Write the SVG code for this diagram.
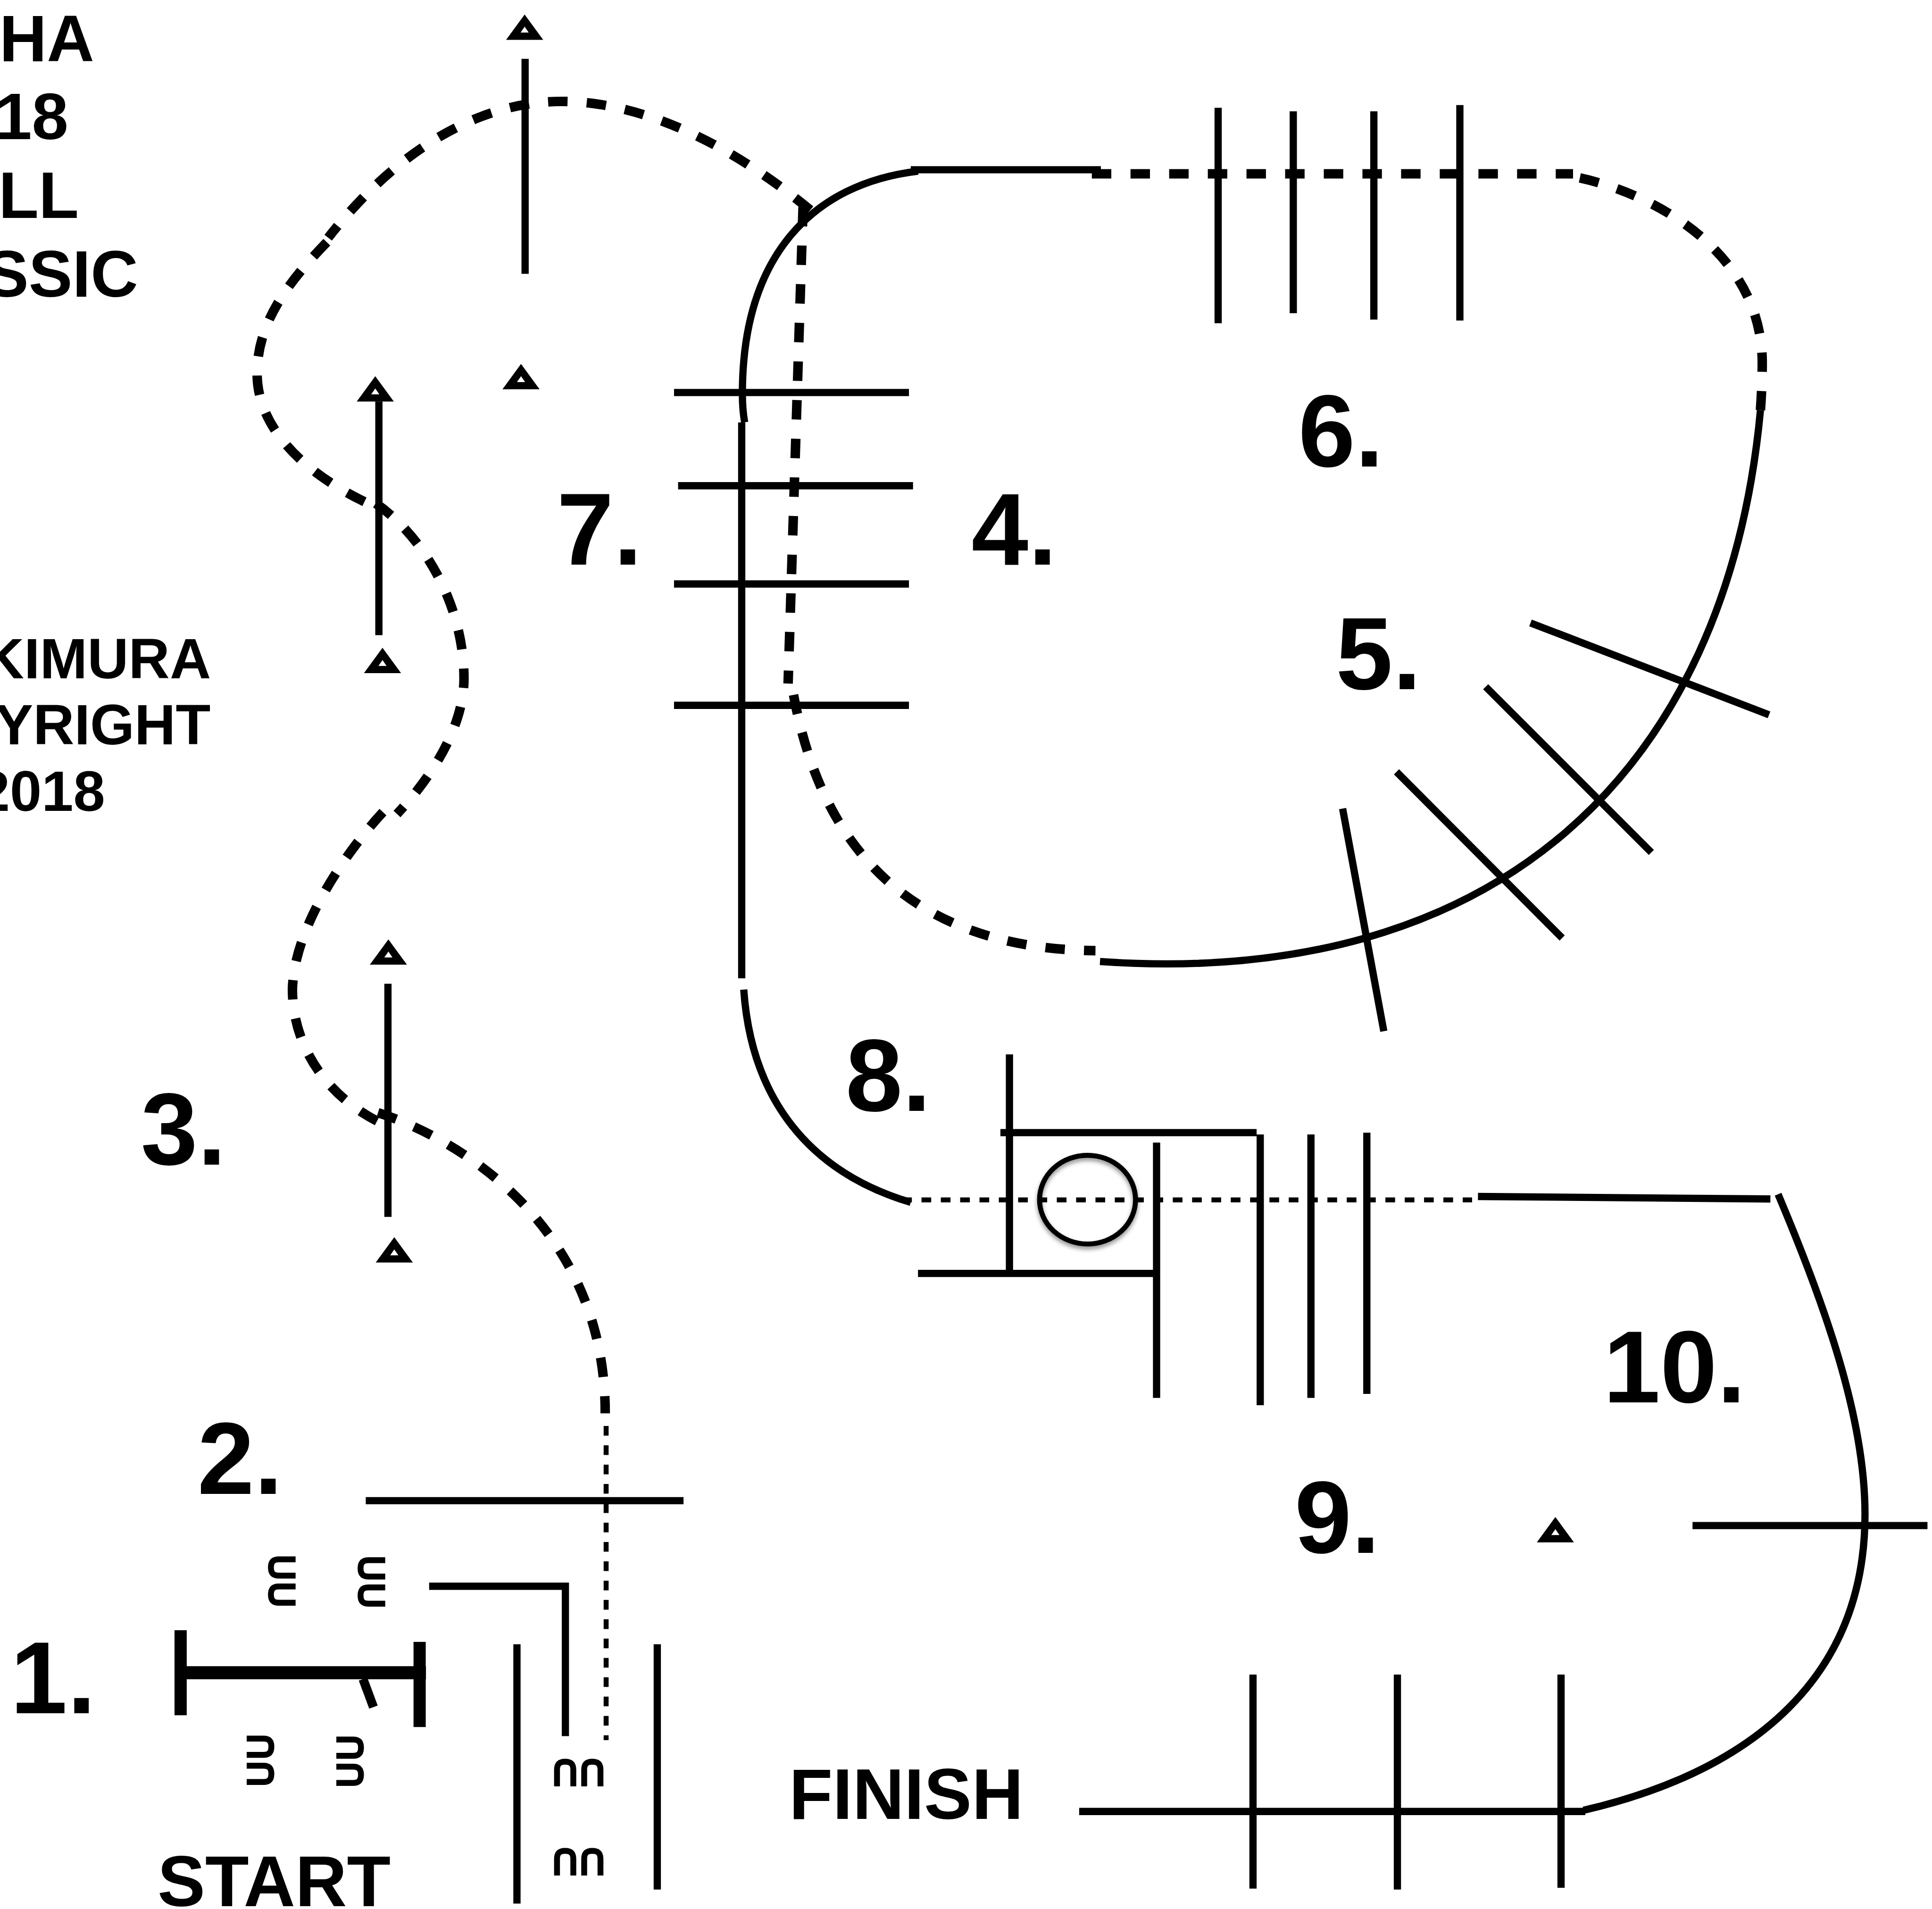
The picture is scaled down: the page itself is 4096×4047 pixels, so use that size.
<svg xmlns="http://www.w3.org/2000/svg" xmlns:xlink="http://www.w3.org/1999/xlink" width="4096" height="4047" viewBox="0 0 4096 4047">
<style>
.s{fill:none;stroke:#000;stroke-width:16}
.h{fill:none;stroke:#000;stroke-width:27}
.d{fill:none;stroke:#000;stroke-width:21;stroke-dasharray:43 42.4}
.o{fill:none;stroke:#000;stroke-width:11;stroke-dasharray:21.4 21.3}
.a{fill:none;stroke:#000;stroke-width:13}
.t{fill:#000;font-family:"Liberation Sans",Arial,sans-serif;font-weight:700}
.n{font-size:226px}
.l{font-size:158px}
.c{font-size:145px;text-anchor:end}
.k{font-size:126px;text-anchor:end}
</style>
<defs>
<path id="tri" fill="#000" fill-rule="evenodd" d="M0 0L41 56H-41ZM0 27L-9 40H9Z"/>
<path id="arch" class="a" d="M6.500 61V24C6.500 12 12 6.500 24.500 6.500C37 6.500 42.500 12 42.500 24V61"/>
<filter id="shadow" x="-20%" y="-20%" width="140%" height="140%"><feDropShadow dx="0" dy="6" stdDeviation="5" flood-color="#000" flood-opacity="0.45"/></filter>
</defs>
<rect width="4096" height="4047" fill="#fff"/>
<g transform="scale(0.9597)">
<g id="track-dashed">
<path class="d" d="M1790 464C1640 340 1440 224 1240 224C1050 224 870 340 725 525"/>
<path class="d" d="M722 535C640 620 568 710 568 825C568 950 680 1050 815 1113"/>
<path class="d" d="M830 1112C930 1180 1025 1330 1025 1499C1025 1600 960 1710 877 1798"/>
<path class="d" d="M846 1794C775 1870 650 2040 646 2185C646 2310 720 2420 838 2479"/>
<path class="d" d="M835 2458C1000 2510 1337 2700 1337 3122"/>
<path class="d" d="M1774 457L1741 1510"/>
<path class="d" d="M1753 1535C1795 1760 1920 2095 2420 2100"/>
<path class="d" d="M2412 384H3475"/>
<path class="d" d="M3490 393C3660 430 3893 560 3893 802Q3893 850 3889 906"/>
</g>
<g id="track-dotted">
<path class="o" d="M1339 3150V3844"/>
<path class="o" d="M1993 2650.500H3252"/>
</g>
<g id="track-solid">
<path class="s" d="M2028 378C1800 405 1640 560 1640 870Q1640 905 1645 933"/>
<path class="s" d="M2012 375H2432"/>
<path class="s" d="M1638.500 933V2161"/>
<path class="s" d="M3889 906C3815 1705 3305 2185 2430 2124"/>
<path class="s" d="M1643 2186C1660 2430 1790 2590 2012 2656"/>
<path class="s" d="M3265 2643L3911 2648.500"/>
<path class="s" d="M3928 2638C4030 2880 4120 3130 4120 3345C4120 3700 3880 3910 3498 3999"/>
<path class="s" d="M2384 4001.500H3502"/>
</g>
<g id="barriers">
<path class="s" d="M1489 867H2008M1498 1073H2017M1489 1290H2008M1489 1558H2008"/>
<path class="s" d="M2691 238V714M2857 246V692M3035 246V706M3225 232V708"/>
<path class="s" d="M3381 1376L3908 1579M3282 1517L3648 1883M3085 1705L3451 2072M2966 1786L3057 2278"/>
<path class="s" d="M2230 2329V2805M2210 2502H2776M2784 2506V3104M2896 2506V3088M3019.500 2502V3079M2555 2524V3088M2028 2813H2547"/>
<path class="s" d="M2768 3699V4172M3087 3699V4174M3448.500 3699V4170M3739 3370H4258"/>
<path class="s" d="M808 3315H1510M948 3504H1249M1249 3496V3835M1142 3632V4205M1452 3632V4174"/>
<path class="s" d="M1160 130V605M837 887V1403M857 2173V2688"/>
</g>
<ellipse id="circle" cx="2402.500" cy="2650" rx="106" ry="98" fill="none" stroke="#000" stroke-width="11" filter="url(#shadow)"/>
<g id="start-gate">
<path class="h" d="M399 3601V3789M927 3627V3815"/>
<path d="M399 3695H941" fill="none" stroke="#000" stroke-width="29"/>
<path d="M802 3709L825 3771" fill="none" stroke="#000" stroke-width="20"/>
</g>
<g id="triangles">
<use xlink:href="#tri" href="#tri" x="1159" y="32"/>
<use xlink:href="#tri" href="#tri" x="1151" y="804"/>
<use xlink:href="#tri" href="#tri" x="829" y="831"/>
<use xlink:href="#tri" href="#tri" x="845" y="1431"/>
<use xlink:href="#tri" href="#tri" x="858" y="2075"/>
<use xlink:href="#tri" href="#tri" x="871" y="2733"/>
<use xlink:href="#tri" href="#tri" x="3436" y="3351"/>
</g>
<g id="marks">
<use xlink:href="#arch" href="#arch" x="1224" y="3885"/>
<use xlink:href="#arch" href="#arch" x="1284" y="3885"/>
<use xlink:href="#arch" href="#arch" x="1224" y="4082"/>
<use xlink:href="#arch" href="#arch" x="1284" y="4082"/>
<use xlink:href="#arch" href="#arch" transform="translate(592 3487) rotate(-90)"/>
<use xlink:href="#arch" href="#arch" transform="translate(592 3547) rotate(-90)"/>
<use xlink:href="#arch" href="#arch" transform="translate(790 3489) rotate(-90)"/>
<use xlink:href="#arch" href="#arch" transform="translate(790 3549) rotate(-90)"/>
<use xlink:href="#arch" href="#arch" transform="translate(606 3834) rotate(90)"/>
<use xlink:href="#arch" href="#arch" transform="translate(606 3894) rotate(90)"/>
<use xlink:href="#arch" href="#arch" transform="translate(804 3836) rotate(90)"/>
<use xlink:href="#arch" href="#arch" transform="translate(804 3896) rotate(90)"/>
</g>
<g id="labels">
<text class="t n" x="23" y="3785">1.</text>
<text class="t n" x="436" y="3300">2.</text>
<text class="t n" x="311" y="2573">3.</text>
<text class="t n" x="2146" y="1247">4.</text>
<text class="t n" x="2951" y="1522">5.</text>
<text class="t n" x="2868" y="1031">6.</text>
<text class="t n" x="1230" y="1247">7.</text>
<text class="t n" x="1868" y="2454">8.</text>
<text class="t n" x="2860" y="3430">9.</text>
<text class="t n" x="3542" y="3098">10.</text>
<text class="t l" x="348" y="4211">START</text>
<text class="t l" x="1743" y="4018">FINISH</text>
<text class="t c" x="208" y="135">HA</text>
<text class="t c" x="151" y="307">18</text>
<text class="t c" x="174" y="481">LL</text>
<text class="t c" x="305" y="655">SSIC</text>
<text class="t k" x="466" y="1498">KIMURA</text>
<text class="t k" x="465" y="1644">YRIGHT</text>
<text class="t k" x="232" y="1791">2018</text>
</g>
</g>
</svg>
